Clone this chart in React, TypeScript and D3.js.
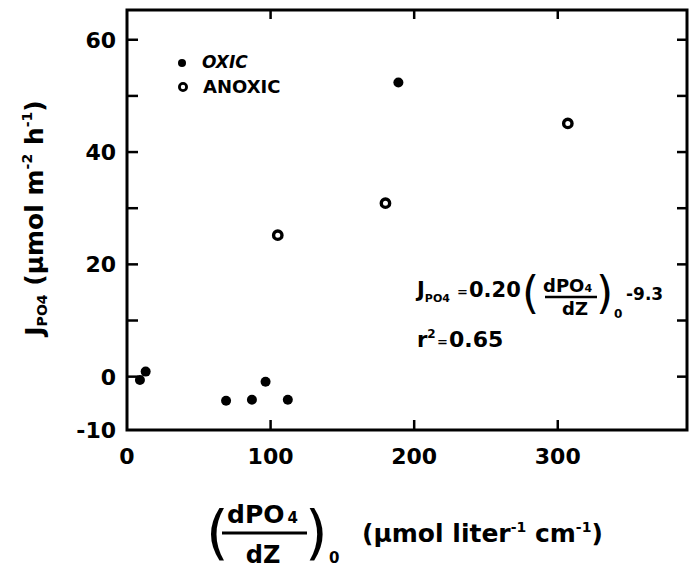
import * as d3 from 'd3';
import { useEffect, useRef } from 'react';

// phosphate flux vs. gradient at the interface
const oxicGradient = [9, 13, 69, 87, 96.5, 112, 189];
const oxicFlux = [-0.6, 0.9, -4.3, -4.1, -0.9, -4.1, 52.4];
const anoxicGradient = [105, 180, 307];
const anoxicFlux = [25.2, 30.9, 45.1];

const xTickValues = [100, 200, 300];
const xTickLabels = [0, 100, 200, 300];
const yTickValues = [0, 10, 20, 30, 40, 50, 60];
const yTickLabels = [-10, 0, 20, 40, 60];

const legendNames = ['OXIC', 'ANOXIC'];
const fitSlope = '0.20';
const fitIntercept = '-9.3';
const fitR2 = '0.65';

const FONT = 'DejaVu Sans, sans-serif';

function App() {
    const svgRef = useRef<SVGSVGElement>(null);

    useEffect(() => {
        const svg = d3.select(svgRef.current);
        svg.selectAll('*').remove();

        const x = d3.scaleLinear().domain([0, 390]).range([127, 687]);
        const y = d3.scaleLinear().domain([-9.5, 65.3]).range([430, 10]).clamp(true);
        const [x0, x1] = x.range();
        const [y0, y1] = y.range();

        const g = svg.append('g')
            .attr('font-family', FONT)
            .attr('font-weight', 'bold')
            .attr('fill', '#000');

        // frame
        g.append('rect')
            .attr('x', x0).attr('y', y1)
            .attr('width', x1 - x0).attr('height', y0 - y1)
            .attr('fill', 'none')
            .attr('stroke', '#000')
            .attr('stroke-width', 3);

        // inward ticks on all four sides
        yTickValues.forEach(v => {
            g.append('line')
                .attr('x1', x0).attr('x2', x0 + 11)
                .attr('y1', y(v)).attr('y2', y(v))
                .attr('stroke', '#000').attr('stroke-width', 2.5);
            g.append('line')
                .attr('x1', x1).attr('x2', x1 - 10)
                .attr('y1', y(v)).attr('y2', y(v))
                .attr('stroke', '#000').attr('stroke-width', 2.5);
        });
        xTickValues.forEach(v => {
            g.append('line')
                .attr('x1', x(v)).attr('x2', x(v))
                .attr('y1', y0).attr('y2', y0 - 10)
                .attr('stroke', '#000').attr('stroke-width', 2.5);
            g.append('line')
                .attr('x1', x(v)).attr('x2', x(v))
                .attr('y1', y1).attr('y2', y1 + 9)
                .attr('stroke', '#000').attr('stroke-width', 2.5);
        });

        // tick labels
        g.selectAll('.ylab')
            .data(yTickLabels)
            .enter().append('text')
            .attr('x', 116)
            .attr('y', d => y(d))
            .attr('dy', '0.36em')
            .attr('text-anchor', 'end')
            .attr('font-size', 22)
            .text(d => d);

        g.selectAll('.xlab')
            .data(xTickLabels)
            .enter().append('text')
            .attr('x', d => x(d))
            .attr('y', 464)
            .attr('text-anchor', 'middle')
            .attr('font-size', 22)
            .text(d => d);

        // data
        g.selectAll('.oxic')
            .data(oxicGradient)
            .enter().append('circle')
            .attr('cx', d => x(d))
            .attr('cy', (d, i) => y(oxicFlux[i]))
            .attr('r', 5)
            .attr('fill', '#000');

        g.selectAll('.anoxic')
            .data(anoxicGradient)
            .enter().append('circle')
            .attr('cx', d => x(d))
            .attr('cy', (d, i) => y(anoxicFlux[i]))
            .attr('r', 4.2)
            .attr('fill', '#fff')
            .attr('stroke', '#000')
            .attr('stroke-width', 3.4);

        // legend
        g.append('circle').attr('cx', 182).attr('cy', 63).attr('r', 4).attr('fill', '#000');
        g.append('text').attr('x', 202).attr('y', 68)
            .attr('font-size', 17).attr('font-style', 'italic')
            .text(legendNames[0]);
        g.append('circle').attr('cx', 183).attr('cy', 87).attr('r', 3.6)
            .attr('fill', '#fff').attr('stroke', '#000').attr('stroke-width', 2.8);
        g.append('text').attr('x', 203).attr('y', 93)
            .attr('font-size', 18)
            .text(legendNames[1]);

        // y axis title
        const yt = g.append('text')
            .attr('transform', 'translate(43,218) rotate(-90)')
            .attr('text-anchor', 'middle')
            .attr('font-size', 25);
        yt.append('tspan').text('J');
        yt.append('tspan').attr('font-size', 14).attr('dy', 4).text('PO4');
        yt.append('tspan').attr('dy', -4).text(' (μmol m');
        yt.append('tspan').attr('font-size', 14).attr('dy', -11).text('-2');
        yt.append('tspan').attr('dy', 11).text(' h');
        yt.append('tspan').attr('font-size', 14).attr('dy', -11).text('-1');
        yt.append('tspan').attr('dy', 11).text(')');

        // x axis title
        g.append('text').attr('x', 206).attr('y', 553)
            .attr('font-size', 58).attr('font-weight', 'normal').text('(');
        const num = g.append('text').attr('x', 227).attr('y', 523).attr('font-size', 25);
        num.append('tspan').text('dPO');
        num.append('tspan').attr('font-size', 15).attr('dx', 3).text('4');
        g.append('line').attr('x1', 222).attr('x2', 307).attr('y1', 533).attr('y2', 533)
            .attr('stroke', '#000').attr('stroke-width', 3);
        g.append('text').attr('x', 263).attr('y', 563)
            .attr('text-anchor', 'middle').attr('font-size', 24).text('dZ');
        g.append('text').attr('x', 305).attr('y', 553)
            .attr('font-size', 58).attr('font-weight', 'normal').text(')');
        g.append('text').attr('x', 329).attr('y', 563).attr('font-size', 15).text('0');
        const unit = g.append('text').attr('x', 362).attr('y', 542).attr('font-size', 25);
        unit.append('tspan').text('(μmol liter');
        unit.append('tspan').attr('font-size', 14).attr('dy', -10).text('-1');
        unit.append('tspan').attr('dy', 10).text(' cm');
        unit.append('tspan').attr('font-size', 14).attr('dy', -10).text('-1');
        unit.append('tspan').attr('dy', 10).text(')');

        // regression annotation
        const eq = g.append('text').attr('font-size', 21);
        eq.append('tspan').attr('x', 417).attr('y', 297).text('J');
        eq.append('tspan').attr('font-size', 11).attr('dy', 5).text('PO4');
        eq.append('tspan').attr('x', 457).attr('y', 296).attr('font-size', 13).text('=');
        eq.append('tspan').attr('x', 469).attr('y', 297).attr('font-size', 21).text(fitSlope);
        g.append('text').attr('x', 522).attr('y', 308)
            .attr('font-size', 44).attr('font-weight', 'normal').text('(');
        const eqNum = g.append('text').attr('x', 543).attr('y', 292).attr('font-size', 18);
        eqNum.append('tspan').text('dPO');
        eqNum.append('tspan').attr('font-size', 11).text('4');
        g.append('line').attr('x1', 545).attr('x2', 597).attr('y1', 297).attr('y2', 297)
            .attr('stroke', '#000').attr('stroke-width', 2.5);
        g.append('text').attr('x', 575).attr('y', 315)
            .attr('text-anchor', 'middle').attr('font-size', 18).text('dZ');
        g.append('text').attr('x', 596).attr('y', 308)
            .attr('font-size', 44).attr('font-weight', 'normal').text(')');
        g.append('text').attr('x', 614).attr('y', 318).attr('font-size', 12).text('0');
        g.append('text').attr('x', 626).attr('y', 300).attr('font-size', 17).text(fitIntercept);

        const r2 = g.append('text').attr('font-size', 21);
        r2.append('tspan').attr('x', 417).attr('y', 347).text('r');
        r2.append('tspan').attr('font-size', 12).attr('dy', -9).text('2');
        r2.append('tspan').attr('x', 437).attr('y', 346).attr('font-size', 13).text('=');
        r2.append('tspan').attr('x', 449).attr('y', 347).attr('font-size', 22).text(fitR2);
    }, []);

    return (
        <svg
            ref={svgRef}
            width={696}
            height={569}
            style={{ position: 'absolute', left: 0, top: 0, background: '#fff' }}
        />
    );
}

export default App;
